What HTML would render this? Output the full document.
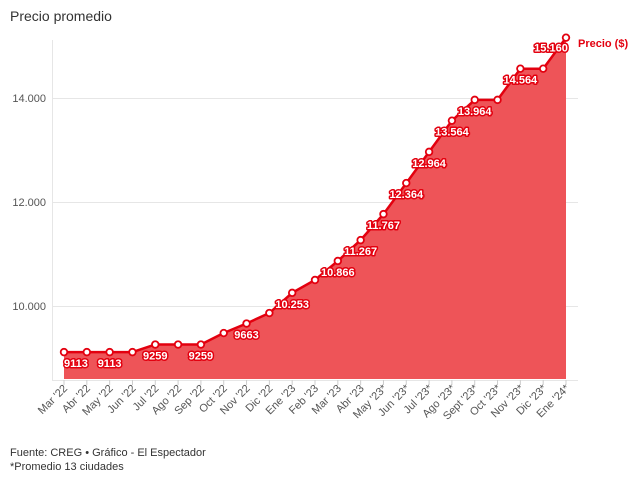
<!DOCTYPE html>
<html><head><meta charset="utf-8"><style>
body{margin:0;background:#fff;width:638px;height:477px;overflow:hidden;font-family:"Liberation Sans",sans-serif}
</style></head><body>
<svg width="638" height="477" xmlns="http://www.w3.org/2000/svg" font-family="Liberation Sans, sans-serif">
<text x="10" y="21" font-size="14" fill="#333">Precio promedio</text>
<g stroke="#e6e6e6" stroke-width="1">
<line x1="52" y1="98.5" x2="578" y2="98.5"/><line x1="52" y1="202.5" x2="578" y2="202.5"/><line x1="52" y1="306.5" x2="578" y2="306.5"/>
<line x1="52.5" y1="40" x2="52.5" y2="380"/><line x1="52" y1="380.5" x2="578" y2="380.5"/>
</g>
<g font-size="11" fill="#555" text-anchor="end">
<text x="46" y="102">14.000</text><text x="46" y="206">12.000</text><text x="46" y="310">10.000</text>
</g>
<g id="c"></g>
<text x="578" y="47" font-size="11" font-weight="bold" fill="#e3000f">Precio ($)</text>
<text x="10" y="456" font-size="11" fill="#333">Fuente: CREG • Gráfico - El Espectador</text>
<text x="10" y="470" font-size="11" fill="#333">*Promedio 13 ciudades</text>
</svg>
<script>
var v=[9113,9113,9113,9113,9259,9259,9259,9480,9663,9865,10253,10500,10866,11267,11767,12364,12964,13564,13964,13964,14564,14564,15160];
var lab=["Mar '22","Abr '22","May '22","Jun '22","Jul '22","Ago '22","Sep '22","Oct '22","Nov '22","Dic '22","Ene '23","Feb '23","Mar '23","Abr '23","May '23*","Jun '23*","Jul '23*","Ago '23*","Sept '23*","Oct '23*","Nov '23*","Dic '23*","Ene '24*"];
var show={0:"9113",2:"9113",4:"9259",6:"9259",8:"9663",10:"10.253",12:"10.866",13:"11.267",14:"11.767",15:"12.364",16:"12.964",17:"13.564",18:"13.964",20:"14.564",22:"15.160"};
function X(i){return 64+i*(502/22)}function Y(a){return 306-(a-10000)*0.052}
var s='',p='';v.forEach(function(a,i){p+=(i?'L':'M')+X(i).toFixed(1)+' '+Y(a).toFixed(1)});
s+='<path d="'+p+'L'+X(22)+' 379L64 379Z" fill="#ee5458"/>';
s+='<path d="'+p+'" fill="none" stroke="#e3000f" stroke-width="2.5"/>';
v.forEach(function(a,i){s+='<circle cx="'+X(i)+'" cy="'+Y(a)+'" r="3.3" fill="#fff" stroke="#e3000f" stroke-width="1.8"/>';
s+='<line x1="'+X(i)+'" y1="380" x2="'+X(i)+'" y2="385" stroke="#ccc"/>';
s+='<text transform="translate('+(X(i)+4)+',389) rotate(-45)" text-anchor="end" font-size="11" fill="#555">'+lab[i]+'</text>';});
for(var k in show){var i=+k,x=X(i),y=Y(v[i])+15,anc='middle';if(i==0){anc='start';x=64}if(i==22){x=X(i)-15;y=Y(v[i])+14}
s+='<text x="'+x+'" y="'+y+'" text-anchor="'+anc+'" font-size="11" font-weight="bold" fill="#fff" stroke="#e3000f" stroke-width="3" paint-order="stroke" stroke-linejoin="round">'+show[k]+'</text>';}
document.getElementById('c').innerHTML=s;
</script>
</body></html>
